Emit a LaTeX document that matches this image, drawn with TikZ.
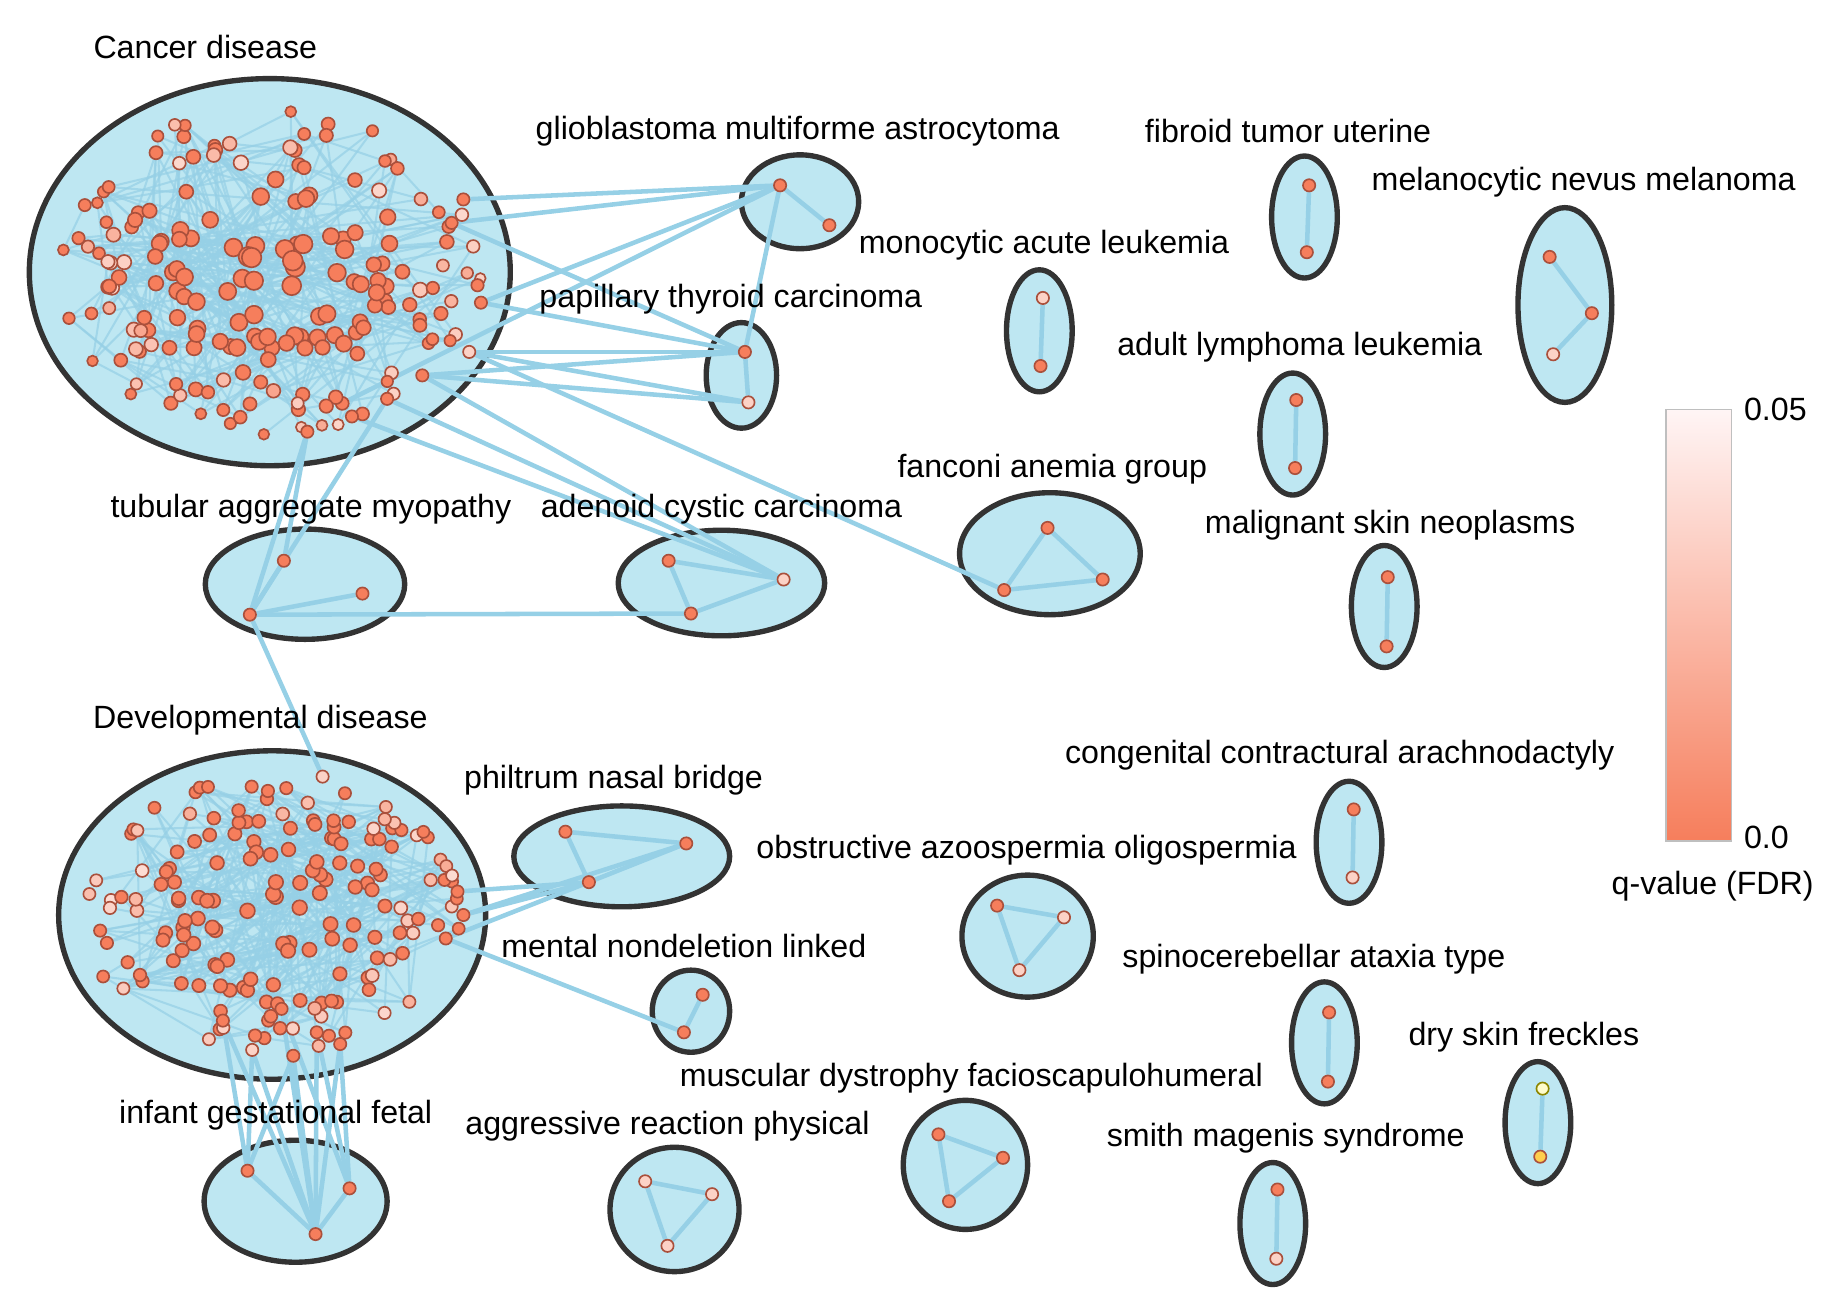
\documentclass[tikz,border=0pt]{standalone}
\usepackage{fontspec}
\setmainfont{Liberation Sans}
\pgfdeclarelayer{bg}\pgfdeclarelayer{edg}
\pgfsetlayers{bg,edg,main}
\definecolor{fillb}{RGB}{190,231,242}
\definecolor{edgeb}{RGB}{150,208,230}
\definecolor{coral}{RGB}{246,126,92}
\definecolor{nodeb}{RGB}{170,80,60}
\tikzset{
 grp/.style={draw=black!80,line width=1.3pt,fill=fillb,ellipse,inner sep=0pt},
 dot/.style={circle,draw=nodeb,line width=0.4pt,fill=coral,inner sep=0pt,minimum size=10.5*0.01cm},
 pale/.style={dot,fill=coral!35!white},
 lk/.style={draw=edgeb,line width=1.1pt},
 lab/.style={font=\fontsize{7.8}{9.5}\selectfont,inner sep=0pt}
}
\usetikzlibrary{shapes.geometric}
\begin{document}
\begin{tikzpicture}[x=0.01cm,y=-0.01cm]
\useasboundingbox (0,0) rectangle (1560,1118);
\begin{pgfonlayer}{bg}
\draw[grp] (230,232) ellipse [x radius=205,y radius=165];
\draw[grp] (232,780) ellipse [x radius=182,y radius=140];
\foreach \x/\y/\a/\b in {682/172/50/40,632/320/30/45,886/282/28/52,1112/185/28/52,1334/260/40/83,1102/370/28/52,895/472/77/52,1180/517/28/52,260/498/85/47,615/497/88/45,1150/718/28/52,530/730/92/43,876/798/56/52,589/862/33/35,1129/889/28/52,1311/957/28/52,823/993/53/55,1085/1043/28/52,575/1031/55/53,252/1024/78/52}
 \draw[grp] (\x,\y) ellipse [x radius=\a,y radius=\b];
\end{pgfonlayer}
\pgfmathsetseed{11}
\foreach \i in {1,...,190}{
 \pgfmathsetmacro\ang{360*rnd}\pgfmathsetmacro\rr{sqrt(rnd)*0.9}
 \pgfmathsetmacro\px{230+200*\rr*cos(\ang)}\pgfmathsetmacro\py{232+158*\rr*sin(\ang)}
 \pgfmathsetmacro\sz{(16-8*\rr+2*rnd)*0.01}
 \pgfmathsetmacro\pl{\rr>0.6 ? (rnd<0.35 ? 30+40*rnd : 100) : 100}
 \node[dot,fill=coral!\pl!white,minimum size=\sz cm] (c\i) at (\px,\py) {};}
\foreach \i in {1,...,170}{
 \pgfmathsetmacro\ang{360*rnd}\pgfmathsetmacro\rr{sqrt(rnd)*0.9}
 \pgfmathsetmacro\px{232+178*\rr*cos(\ang)}\pgfmathsetmacro\py{780+134*\rr*sin(\ang)}
 \pgfmathsetmacro\sz{(13-3*\rr)*0.01}
 \pgfmathsetmacro\pl{\rr>0.6 ? (rnd<0.4 ? 25+40*rnd : 100) : 100}
 \node[dot,fill=coral!\pl!white,minimum size=\sz cm] (d\i) at (\px,\py) {};}
\begin{pgfonlayer}{edg}
\foreach \j in {1,...,300}{
 \pgfmathtruncatemacro\a{random(1,190)}\pgfmathtruncatemacro\b{random(1,190)}
 \draw[lk,line width=0.5pt,opacity=0.7] (c\a) -- (c\b);}
\foreach \j in {1,...,300}{
 \pgfmathtruncatemacro\a{random(1,170)}\pgfmathtruncatemacro\b{random(1,170)}
 \draw[lk,line width=0.5pt,opacity=0.7] (d\a) -- (d\b);}
\end{pgfonlayer}
\node[dot] (h1) at (385,190) {}; \node[pale] (h2) at (400,300) {};
\node[dot] (h3) at (360,320) {}; \node[dot] (h4) at (330,340) {};
\node[dot] (h5) at (410,258) {}; \node[dot] (h6) at (262,368) {};
\node[dot] (h7) at (395,170) {}; \node[dot] (h8) at (300,355) {};
\node[pale] (h9) at (275,662) {}; \node[dot] (h10) at (390,760) {};
\node[dot] (h11) at (380,800) {}; \node[dot] (h12) at (395,780) {};
\node[dot] (h13) at (250,900) {}; \node[dot] (h14) at (290,890) {};
\node[pale] (h15) at (215,895) {}; \node[dot] (h16) at (190,870) {};
\node[dot] (h17) at (240,860) {}; \node[dot] (h18) at (270,880) {};
\node[dot] (g1) at (665,158) {}; \node[dot] (g2) at (707,192) {};
\node[dot] (p1) at (635,300) {}; \node[pale] (p2) at (638,343) {};
\node[pale] (m1) at (889,254) {}; \node[dot] (m2) at (887,312) {};
\node[dot] (f1) at (1116,158) {}; \node[dot] (f2) at (1114,215) {};
\node[dot] (n1) at (1321,219) {}; \node[dot] (n2) at (1357,267) {}; \node[pale] (n3) at (1324,302) {};
\node[dot] (a1) at (1105,341) {}; \node[dot] (a2) at (1104,399) {};
\node[dot] (fa1) at (893,450) {}; \node[dot] (fa2) at (856,503) {}; \node[dot] (fa3) at (940,494) {};
\node[dot] (s1) at (1183,492) {}; \node[dot] (s2) at (1182,551) {};
\node[dot] (t1) at (242,478) {}; \node[dot] (t2) at (309,506) {}; \node[dot] (t3) at (213,524) {};
\node[dot] (ad1) at (570,478) {}; \node[pale] (ad2) at (668,494) {}; \node[dot] (ad3) at (589,523) {};
\node[dot] (cg1) at (1154,690) {}; \node[pale] (cg2) at (1153,748) {};
\node[dot] (ph1) at (482,709) {}; \node[dot] (ph2) at (585,719) {}; \node[dot] (ph3) at (502,752) {};
\node[dot] (o1) at (850,772) {}; \node[pale] (o2) at (907,782) {}; \node[pale] (o3) at (869,827) {};
\node[dot] (me1) at (599,848) {}; \node[dot] (me2) at (583,880) {};
\node[dot] (sp1) at (1133,863) {}; \node[dot] (sp2) at (1132,922) {};
\node[dot,fill=yellow!20!white,draw=olive] (ds1) at (1315,928) {}; \node[dot,fill=orange!55!yellow!70!white] (ds2) at (1313,986) {};
\node[dot] (mu1) at (800,967) {}; \node[dot] (mu2) at (855,987) {}; \node[dot] (mu3) at (809,1024) {};
\node[dot] (sm1) at (1089,1014) {}; \node[pale] (sm2) at (1088,1073) {};
\node[pale] (ag1) at (550,1007) {}; \node[pale] (ag2) at (607,1018) {}; \node[pale] (ag3) at (569,1062) {};
\node[dot] (i1) at (211,998) {}; \node[dot] (i2) at (298,1013) {}; \node[dot] (i3) at (269,1052) {};
\begin{pgfonlayer}{edg}
\foreach \u/\v in {g1/g2,g1/p1,p1/p2,m1/m2,f1/f2,n1/n2,n2/n3,a1/a2,fa1/fa2,fa1/fa3,fa2/fa3,s1/s2,
 t1/t3,t2/t3,ad1/ad2,ad2/ad3,ad1/ad3,t3/ad3,cg1/cg2,ph1/ph2,ph1/ph3,ph2/ph3,o1/o2,o1/o3,o2/o3,me1/me2,sp1/sp2,ds1/ds2,
 mu1/mu2,mu2/mu3,mu1/mu3,sm1/sm2,ag1/ag2,ag2/ag3,ag1/ag3,i1/i3,i2/i3,
 h1/g1,h7/g1,h5/g1,c5/g1,h1/p1,h2/p1,h3/p1,h5/p1,h2/p2,h3/p2,h2/fa2,h3/ad2,h4/ad2,h8/ad2,
 h6/t1,h6/t3,h4/t3,h9/t3,h10/ph3,h11/ph3,h12/ph3,h12/ph2,h11/me2,
 h13/i1,h14/i2,h15/i1,h16/i1,h17/i3,h18/i3,h13/i3,h14/i3,h17/i2,h18/i2,h15/i3,h16/i3}
 \draw[lk] (\u) -- (\v);
\end{pgfonlayer}
\foreach \x/\y/\t in {175/40/Cancer disease,680/112/glioblastoma multiforme astrocytoma,623/255/papillary thyroid carcinoma,
 890/209/monocytic acute leukemia,1098/112/fibroid tumor uterine,1350/155/melanocytic nevus melanoma,
 1108/296/adult lymphoma leukemia,897/400/fanconi anemia group,1185/448/malignant skin neoplasms,
 265/434/tubular aggregate myopathy,615/434/adenoid cystic carcinoma,222/614/Developmental disease,
 1142/644/congenital contractural arachnodactyly,523/665/philtrum nasal bridge,
 875/725/obstructive azoospermia oligospermia,583/806/mental nondeletion linked,
 1120/818/spinocerebellar ataxia type,1299/884/dry skin freckles,828/919/muscular dystrophy facioscapulohumeral,
 1096/970/smith magenis syndrome,569/960/aggressive reaction physical,235/951/infant gestational fetal}
 \node[lab] (l\x) at (\x,\y) {\t};
\shade[top color=white!96!red,bottom color=coral] (1420,349) rectangle (1476,717);
\draw[black!25] (1420,349) rectangle (1476,717);
\node[lab,anchor=west] (cb1) at (1486,349) {0.05};
\node[lab,anchor=west] (cb2) at (1486,714) {0.0};
\node[lab] (cb3) at (1460,755) {q-value (FDR)};
\end{tikzpicture}
\end{document}
